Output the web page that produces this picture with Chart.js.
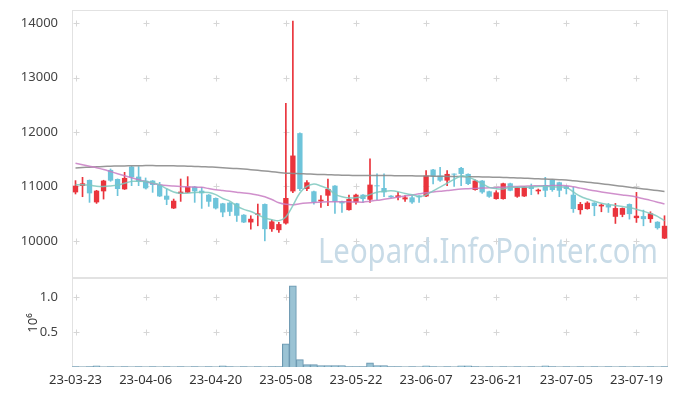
<!DOCTYPE html>
<html>
<head>
<meta charset="utf-8">
<script src="https://cdn.jsdelivr.net/npm/chart.js@4.4.0/dist/chart.umd.min.js"></script>
<style>
  html, body { margin: 0; padding: 0; background: #fff; }
  #wrap { position: relative; width: 677px; height: 396px; }
  #priceChart { position: absolute; left: 0; top: 0; }
  #volChart { position: absolute; left: 0; top: 278px; }
</style>
</head>
<body>
<div id="wrap">
  <canvas id="priceChart" width="677" height="278"></canvas>
  <canvas id="volChart" width="677" height="118"></canvas>
</div>
<script>
// 거래일 (x축 카테고리)
const dates = [
  '23-03-23','23-03-24','23-03-27','23-03-28','23-03-29','23-03-30','23-03-31','23-04-03','23-04-04','23-04-05',
  '23-04-06','23-04-07','23-04-10','23-04-11','23-04-12','23-04-13','23-04-14','23-04-17','23-04-18','23-04-19',
  '23-04-20','23-04-21','23-04-24','23-04-25','23-04-26','23-04-27','23-04-28','23-05-02','23-05-03','23-05-04',
  '23-05-08','23-05-09','23-05-10','23-05-11','23-05-12','23-05-15','23-05-16','23-05-17','23-05-18','23-05-19',
  '23-05-22','23-05-23','23-05-24','23-05-25','23-05-26','23-05-30','23-05-31','23-06-01','23-06-02','23-06-05',
  '23-06-07','23-06-08','23-06-09','23-06-12','23-06-13','23-06-14','23-06-15','23-06-16','23-06-19','23-06-20',
  '23-06-21','23-06-22','23-06-23','23-06-26','23-06-27','23-06-28','23-06-29','23-06-30','23-07-03','23-07-04',
  '23-07-05','23-07-06','23-07-07','23-07-10','23-07-11','23-07-12','23-07-13','23-07-14','23-07-17','23-07-18',
  '23-07-19','23-07-20','23-07-21','23-07-24','23-07-25'
];

// 축 눈금
const priceTicks = [10000, 11000, 12000, 13000, 14000];
const volTicks = [500000, 1000000];

// 시가 / 고가 / 저가 / 종가
const opens = [
  10892,11009,11120,10708,10911,11305,11138,10948,11366,11181,
  11108,11108,11034,10831,10597,10868,10886,10997,10923,10849,
  10788,10689,10702,10689,10480,10339,10480,10677,10215,10197,
  10320,10910,11981,10954,10911,10726,10831,11015,10726,10566,
  10708,10849,10757,11015,10972,10831,10800,10763,10800,10831,
  10818,11311,11200,11108,11231,11341,11231,10935,11108,10911,
  10769,10769,11058,10812,10818,11003,10911,11028,11120,11077,
  11003,10849,10566,10585,10702,10634,10658,10443,10480,10677,
  10418,10455,10400,10351,10043
];
const highs = [
  11108,11169,11120,10930,11115,11323,11140,11261,11370,11366,
  11157,11110,11077,10954,10769,11138,11181,11000,10985,10852,
  10790,10692,10705,10692,10483,10462,10677,10680,10382,10339,
  12528,14040,11985,11108,10915,10831,11138,11018,10730,10843,
  10862,10852,11508,11231,11231,10834,10892,10831,10831,10834,
  11292,11315,11354,11292,11234,11354,11234,11120,11110,10915,
  10923,11062,11062,10988,11000,11046,10954,11169,11123,11080,
  11006,10985,10708,10720,10705,10677,10689,10689,10606,10680,
  10892,10566,10535,10354,10462
];
const lows = [
  10862,10812,10708,10689,10769,11095,10831,10945,11015,11015,
  10954,10892,10815,10665,10594,10726,10883,10708,10597,10634,
  10585,10443,10462,10357,10336,10215,10277,10000,10172,10154,
  10308,10886,10923,10923,10677,10615,10646,10505,10523,10563,
  10677,10708,10708,10757,10812,10797,10751,10726,10689,10708,
  10815,11046,11095,11015,11003,11015,11034,10932,10874,10800,
  10766,10766,10920,10800,10815,10849,10862,10812,10911,10812,
  10862,10523,10492,10582,10462,10535,10523,10320,10443,10400,
  10339,10277,10339,10215,10040
];
const closes = [
  11015,11058,10874,10923,11108,11108,10954,11157,11169,11089,
  10966,11028,10818,10757,10738,10905,10997,10911,10874,10720,
  10597,10523,10535,10462,10339,10406,10505,10215,10357,10308,
  10788,11569,10954,11077,10708,10757,10954,10720,10689,10769,
  10849,10769,11034,11003,10892,10800,10837,10800,10708,10800,
  11200,11188,11108,11231,11218,11231,11046,11108,10892,10812,
  10892,11058,10923,10985,10997,10954,10941,10923,10935,10923,
  10954,10585,10677,10702,10640,10665,10615,10603,10603,10492,
  10462,10400,10505,10234,10277
];

// 이동평균선
const ma5 = [
  11033,11030,11026,11005,11000,11010,11025,11060,11094,11095,
  11090,11070,11030,10960,10900,10875,10878,10890,10895,10890,
  10850,10780,10730,10640,10580,10540,10480,10420,10390,10372,
  10440,10650,10880,11000,11046,11010,10960,10860,10810,10790,
  10795,10810,10850,10895,10912,10920,10905,10870,10849,10815,
  10845,10920,10990,11060,11130,11195,11170,11120,11050,10984,
  10960,10955,10984,10985,10984,10990,11000,11002,10995,10990,
  10984,10900,10820,10769,10730,10690,10668,10650,10630,10612,
  10580,10545,10504,10450,10369
];
const ma20 = [
  11426,11400,11372,11345,11313,11275,11236,11198,11160,11124,
  11090,11055,11034,11018,11008,11000,10994,10989,10984,10962,
  10940,10926,10912,10896,10880,10868,10842,10812,10760,10700,
  10672,10665,10683,10696,10706,10712,10718,10720,10720,10718,
  10715,10712,10728,10745,10765,10785,10805,10825,10845,10865,
  10885,10900,10913,10925,10940,10952,10958,10964,10970,10976,
  10982,10988,10996,11000,11005,11010,11013,11015,11016,11016,
  11015,10995,10970,10945,10920,10900,10880,10862,10845,10828,
  10805,10775,10745,10712,10677
];
const ma60 = [
  11342,11350,11356,11362,11368,11373,11376,11379,11381,11383,
  11384,11384,11383,11382,11380,11377,11373,11369,11365,11360,
  11353,11345,11337,11329,11320,11310,11298,11285,11272,11258,
  11245,11240,11235,11230,11225,11220,11217,11213,11209,11205,
  11202,11200,11200,11200,11200,11200,11199,11198,11196,11194,
  11192,11190,11188,11186,11184,11182,11180,11178,11176,11174,
  11170,11166,11162,11157,11152,11147,11142,11137,11132,11126,
  11120,11107,11094,11080,11065,11050,11035,11019,11003,10987,
  10971,10955,10940,10925,10910
];

// 거래량
const volumes = [
  5000,4000,5000,15000,4000,5000,4000,5000,4000,5000,
  4000,5000,4000,5000,4000,5000,4000,5000,4000,5000,
  4000,15000,5000,4000,5000,4000,5000,4000,5000,5000,
  330000,1160000,105000,35000,35000,20000,20000,20000,20000,6000,
  5000,6000,60000,20000,20000,6000,5000,4000,5000,4000,
  18000,5000,4000,5000,4000,18000,18000,5000,4000,5000,
  4000,5000,4000,5000,4000,5000,4000,18000,5000,4000,
  5000,4000,5000,4000,5000,4000,5000,4000,5000,4000,
  5000,4000,5000,4000,5000
];

const UP = 'rgb(234,52,60)';
const DOWN = 'rgb(110,196,218)';
const candleColors = opens.map((o, i) => closes[i] >= o ? UP : DOWN);
const tickFont = { family: 'Noto Sans', size: 13 };

// y축 폭 고정 + 라벨 여백 제거
function fixYAxis(s) {
  s.width = 72;
  s.paddingTop = 0;
  s.paddingBottom = 0;
}

// 차트 영역 테두리
const framePlugin = {
  id: 'frame',
  beforeDatasetsDraw(chart) {
    const { ctx, chartArea: a } = chart;
    ctx.save();
    ctx.strokeStyle = '#e2e2e2';
    ctx.lineWidth = 1;
    ctx.strokeRect(Math.round(a.left) + 0.5, Math.round(a.top) + 0.5,
      Math.round(a.right - a.left) - 1, Math.round(a.bottom - a.top) - 1);
    ctx.restore();
  }
};

// 그리드 교차점의 + 표시
const plusPlugin = {
  id: 'plusMarks',
  beforeDatasetsDraw(chart) {
    const { ctx, scales } = chart;
    const xs = scales.x, ys = scales.y;
    ctx.save();
    ctx.strokeStyle = '#d6d6d6';
    ctx.lineWidth = 1;
    ys.ticks.forEach(t => {
      const py = Math.round(ys.getPixelForValue(t.value)) + 0.5;
      dates.forEach((d, i) => {
        if (i % 10 !== 0) return;
        const px = Math.round(xs.getPixelForValue(i)) + 0.5;
        ctx.beginPath();
        ctx.moveTo(px - 3, py); ctx.lineTo(px + 3, py);
        ctx.moveTo(px, py - 3); ctx.lineTo(px, py + 3);
        ctx.stroke();
      });
    });
    ctx.restore();
  }
};

// 워터마크
const watermarkPlugin = {
  id: 'watermark',
  beforeDatasetsDraw(chart) {
    const { ctx } = chart;
    const text = 'Leopard.InfoPointer.com';
    ctx.save();
    ctx.font = '34px "Noto Sans"';
    const w = ctx.measureText(text).width;
    const sx = 340 / w;
    ctx.translate(318, 263);
    ctx.scale(sx, 1);
    ctx.fillStyle = 'rgb(200,219,231)';
    ctx.textBaseline = 'alphabetic';
    ctx.fillText(text, 0, 0);
    ctx.restore();
  }
};

// 거래량 축 단위 표시
const unitPlugin = {
  id: 'unitTitle',
  afterDraw(chart) {
    const { ctx } = chart;
    ctx.save();
    ctx.translate(33, 45);
    ctx.rotate(-Math.PI / 2);
    ctx.fillStyle = '#333';
    ctx.font = '13px "Noto Sans"';
    ctx.textAlign = 'center';
    ctx.textBaseline = 'middle';
    ctx.fillText('10⁶', 0, 0);
    ctx.restore();
  }
};

const priceChart = new Chart(document.getElementById('priceChart'), {
  type: 'bar',
  data: {
    labels: dates,
    datasets: [
      { type: 'line', label: 'MA5', data: ma5, borderColor: 'rgba(125,200,190,0.85)', borderWidth: 1.5, pointRadius: 0, tension: 0.35, order: 0 },
      { type: 'line', label: 'MA20', data: ma20, borderColor: 'rgba(200,125,195,0.85)', borderWidth: 1.5, pointRadius: 0, tension: 0.35, order: 0 },
      { type: 'line', label: 'MA60', data: ma60, borderColor: 'rgba(140,140,140,0.9)', borderWidth: 1.5, pointRadius: 0, tension: 0.35, order: 0 },
      {
        label: 'body',
        data: opens.map((o, i) => [o, closes[i]]),
        backgroundColor: candleColors,
        barPercentage: 0.76,
        categoryPercentage: 1,
        grouped: false,
        minBarLength: 1,
        order: 2
      },
      {
        label: 'wick',
        data: lows.map((l, i) => [l, highs[i]]),
        backgroundColor: candleColors,
        barThickness: 1,
        grouped: false,
        order: 3
      }
    ]
  },
  options: {
    responsive: false,
    animation: false,
    layout: { padding: { top: 10, right: 9, left: 0, bottom: 0 } },
    plugins: { legend: { display: false }, tooltip: { enabled: false } },
    scales: {
      x: { display: false, offset: true },
      y: {
        min: 9317,
        max: 14246,
        afterFit: fixYAxis,
        afterBuildTicks: s => { s.ticks = priceTicks.map(v => ({ value: v })); },
        grid: { display: false },
        border: { display: false },
        ticks: { padding: 6, color: '#444', font: tickFont, callback: v => String(v) }
      }
    }
  },
  plugins: [framePlugin, plusPlugin, watermarkPlugin]
});

const volChart = new Chart(document.getElementById('volChart'), {
  type: 'bar',
  data: {
    labels: dates,
    datasets: [{
      label: 'volume',
      data: volumes,
      backgroundColor: 'rgba(150,192,210,0.95)',
      borderColor: 'rgb(105,150,175)',
      borderWidth: 1,
      barPercentage: 1,
      categoryPercentage: 1
    }]
  },
  options: {
    responsive: false,
    animation: false,
    layout: { padding: { top: 0, right: 9, left: 0, bottom: 0 } },
    plugins: { legend: { display: false }, tooltip: { enabled: false } },
    scales: {
      x: {
        offset: true,
        afterFit: s => { s.height = 29; },
        grid: { display: false, drawTicks: false },
        border: { display: false },
        ticks: {
          autoSkip: false,
          maxRotation: 0,
          padding: 5,
          color: '#333',
          font: tickFont,
          callback: (v, i) => i % 10 === 0 ? dates[i] : ''
        }
      },
      y: {
        min: 0,
        max: 1270000,
        afterFit: fixYAxis,
        afterBuildTicks: s => { s.ticks = volTicks.map(v => ({ value: v })); },
        grid: { display: false },
        border: { display: false },
        ticks: {
          padding: 6,
          color: '#444',
          font: tickFont,
          callback: v => (v / 1e6).toFixed(1)
        }
      }
    }
  },
  plugins: [framePlugin, plusPlugin, unitPlugin]
});
</script>
</body>
</html>
